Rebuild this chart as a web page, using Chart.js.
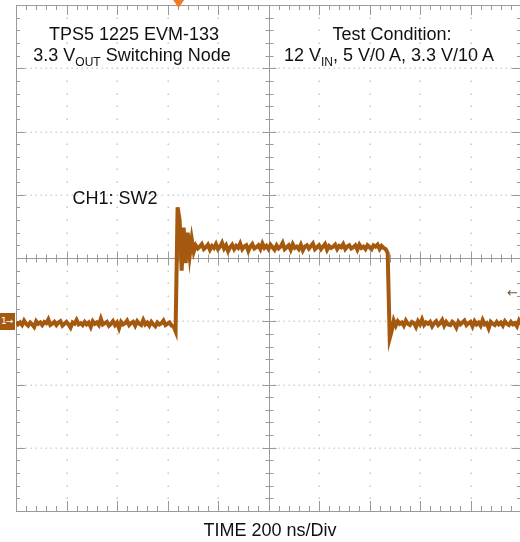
<!DOCTYPE html>
<html>
<head>
<meta charset="utf-8">
<script src="https://cdn.jsdelivr.net/npm/chart.js@4.4.0/dist/chart.umd.min.js"></script>
<style>
  html, body { margin: 0; padding: 0; background: #fff; overflow: hidden; }
  #wrap { position: relative; width: 520px; height: 542px; overflow: hidden; }
  canvas { position: absolute; left: 0; top: 0; }
  .lbl { position: absolute; transform: translate(-50%, -50%); white-space: nowrap;
         font-family: "Liberation Sans", Arial, sans-serif; font-size: 18px; color: #111; }
  .sub { font-size: 12px; position: relative; top: 5px; }
  #gnd { position: absolute; left: 0; top: 313px; width: 15px; height: 17px; background: #a5590f;
         color: #fff; font-family: "DejaVu Sans", sans-serif; font-size: 9px; line-height: 17px;
         letter-spacing: -1px; padding-left: 1px; box-sizing: border-box; overflow: hidden; }
  #rarrow { position: absolute; left: 507px; top: 285px; font-family: "DejaVu Sans", sans-serif;
            font-size: 13px; color: #6e5238; }
</style>
</head>
<body>
<div id="wrap">
  <canvas id="scope" width="530" height="542"></canvas>
  <div class="lbl" style="left:134px; top:34px;">TPS5 1225 EVM-133</div>
  <div class="lbl" style="left:132px; top:55px;">3.3 V<span class="sub">OUT</span> Switching Node</div>
  <div class="lbl" style="left:392px; top:34px;">Test Condition:</div>
  <div class="lbl" style="left:389px; top:55px;">12 V<span class="sub">IN</span>, 5 V/0 A, 3.3 V/10 A</div>
  <div class="lbl" style="left:115px; top:198px;">CH1: SW2</div>
  <div class="lbl" style="left:270px; top:530px;">TIME 200 ns/Div</div>
  <div id="gnd">1&#8594;</div>
  <div id="rarrow">&#8592;</div>
</div>
<script>
// screen is 10 x 8 divisions, values in divisions (center = 0)
const sampleStepDiv = 0.04;

const lowBeforeRise = [
  -1.01,-1.05,-1.02,-1.06,-0.99,-1.04,-1.07,-1.02,-1.05,-1.09,
  -1.00,-1.04,-1.02,-1.06,-1.01,-1.03,-0.97,-1.06,-1.04,-1.01,
  -1.06,-1.02,-1.00,-1.07,-1.04,-1.01,-1.05,-1.10,-1.02,-1.04,
  -0.98,-1.05,-1.03,-1.06,-1.01,-1.05,-1.02,-1.09,-1.00,-1.04,
  -1.02,-1.06,-0.96,-1.05,-1.03,-1.01,-1.07,-1.04,-1.00,-1.06,
  -1.02,-1.11,-1.01,-1.05,-1.03,-0.99,-1.06,-1.03,-1.01,-1.07,
  -1.00,-1.04,-1.06,-0.98,-1.05,-1.02,-1.07,-1.01,-1.05,-1.08,
  -1.02,-1.05,-1.03,-0.99,-1.06,-1.04,-1.02,-1.07,-1.08,-1.16
];
const riseRinging = [0.80, 0.60, -0.20, 0.48, -0.08, 0.40, 0.04, 0.30, 0.10];
const highLevel = [
  0.20,0.15,0.18,0.22,0.14,0.17,0.21,0.13,0.19,0.16,
  0.22,0.14,0.18,0.24,0.15,0.20,0.11,0.17,0.21,0.14,
  0.19,0.16,0.23,0.14,0.18,0.20,0.11,0.18,0.22,0.15,
  0.17,0.20,0.14,0.23,0.16,0.19,0.14,0.21,0.17,0.13,
  0.20,0.15,0.18,0.24,0.14,0.17,0.20,0.13,0.22,0.16,
  0.18,0.14,0.21,0.12,0.18,0.20,0.15,0.19,0.23,0.14,
  0.17,0.20,0.14,0.18,0.22,0.13,0.19,0.16,0.18,0.21,
  0.14,0.19,0.17,0.22,0.14,0.18,0.20,0.15,0.17,0.20,
  0.13,0.21,0.16,0.18,0.14,0.20,0.17,0.14,0.20,0.18,
  0.21,0.14,0.19,0.16,0.14,0.08
];
const fallEdge = [-1.27, -1.15, -0.99, -1.07];
const lowAfterFall = [
  -1.00,-1.04,-1.02,-1.07,-0.99,-1.04,-1.06,-1.01,-1.03,-1.09,
  -1.00,-1.05,-0.97,-1.06,-1.02,-1.04,-1.01,-1.08,-1.03,-1.00,
  -1.06,-1.03,-0.98,-1.07,-1.01,-1.05,-1.06,-1.01,-1.04,-1.10,
  -1.01,-1.05,-1.02,-0.99,-1.06,-1.03,-1.01,-1.08,-1.00,-1.05,
  -1.02,-1.07,-0.98,-1.05,-1.03,-1.11,-1.01,-1.04,-1.06,-1.01,
  -1.05,-1.02,-1.07,-1.00,-1.04,-1.06,-1.01,-1.05,-1.03,-1.08,
  -0.99,-1.05,-1.03,-1.06
];

const traceColor = '#a5590f';
const trace = [...lowBeforeRise, ...riseRinging, ...highLevel, ...fallEdge, ...lowAfterFall]
  .map((v, i) => ({ x: i * sampleStepDiv, y: v }));

// graticule: dotted grid, center cross with ticks, border with ticks
const scopeGrid = {
  id: 'scopeGrid',
  beforeDatasetsDraw(chart) {
    const { ctx, chartArea: ca, scales } = chart;
    const X = v => Math.round(scales.x.getPixelForValue(v)) + 0.5;
    const Y = v => Math.round(scales.y.getPixelForValue(v)) + 0.5;
    ctx.save();

    ctx.fillStyle = '#c6c6c6';
    for (let k = 1; k < 10; k++) {
      if (k === 5) continue;
      for (let j = -19; j < 20; j++) ctx.fillRect(X(k) - 1, Y(j / 5) - 1, 1.5, 1.5);
    }
    ctx.fillStyle = '#d2d2d2';
    for (let k = -3; k < 4; k++) {
      if (k === 0) continue;
      for (let j = 1; j < 100; j++) {
        if (j % 10 === 0) continue;
        ctx.fillRect(X(j / 10) - 1, Y(k) - 1, 1.5, 1.5);
      }
    }

    ctx.strokeStyle = '#9a9a9a';
    ctx.lineWidth = 1;
    ctx.beginPath();
    ctx.moveTo(ca.left, Y(0)); ctx.lineTo(ca.right, Y(0));
    ctx.moveTo(X(5), ca.top); ctx.lineTo(X(5), ca.bottom);
    for (let j = 1; j < 50; j++) {
      const len = j % 5 === 0 ? 7 : 4;
      ctx.moveTo(X(j / 5), Y(0) - len); ctx.lineTo(X(j / 5), Y(0) + len);
      ctx.moveTo(X(j / 5), ca.top); ctx.lineTo(X(j / 5), ca.top + (j % 5 === 0 ? 10 : 5));
      ctx.moveTo(X(j / 5), ca.bottom); ctx.lineTo(X(j / 5), ca.bottom - (j % 5 === 0 ? 10 : 5));
    }
    for (let j = -19; j < 20; j++) {
      const len = j % 5 === 0 ? 7 : 4;
      ctx.moveTo(X(5) - len, Y(j / 5)); ctx.lineTo(X(5) + len, Y(j / 5));
      ctx.moveTo(ca.left, Y(j / 5)); ctx.lineTo(ca.left + (j % 5 === 0 ? 9 : 4), Y(j / 5));
      ctx.moveTo(ca.right, Y(j / 5)); ctx.lineTo(ca.right - (j % 5 === 0 ? 9 : 4), Y(j / 5));
    }
    ctx.stroke();
    ctx.strokeRect(ca.left + 0.5, ca.top + 0.5, ca.right - ca.left, ca.bottom - ca.top);
    ctx.restore();
  },
  afterDraw(chart) {
    const { ctx, scales } = chart;
    const tx = scales.x.getPixelForValue(3.22);
    ctx.save();
    ctx.fillStyle = '#f27a26';
    ctx.beginPath();
    ctx.moveTo(tx - 5.5, 0); ctx.lineTo(tx + 5.5, 0); ctx.lineTo(tx, 8);
    ctx.closePath();
    ctx.fill();
    ctx.restore();
  }
};

new Chart(document.getElementById('scope'), {
  type: 'line',
  data: {
    datasets: [{
      data: trace,
      borderColor: traceColor,
      borderWidth: 4,
      borderJoinStyle: 'miter',
      pointRadius: 0,
      tension: 0,
      fill: false
    }]
  },
  options: {
    responsive: false,
    animation: false,
    devicePixelRatio: 1,
    layout: { padding: { left: 16, top: 5, right: 9, bottom: 31 } },
    plugins: { legend: { display: false }, tooltip: { enabled: false } },
    scales: {
      x: { type: 'linear', min: 0, max: 10, display: false },
      y: { min: -4, max: 4, display: false }
    }
  },
  plugins: [scopeGrid]
});
</script>
</body>
</html>
